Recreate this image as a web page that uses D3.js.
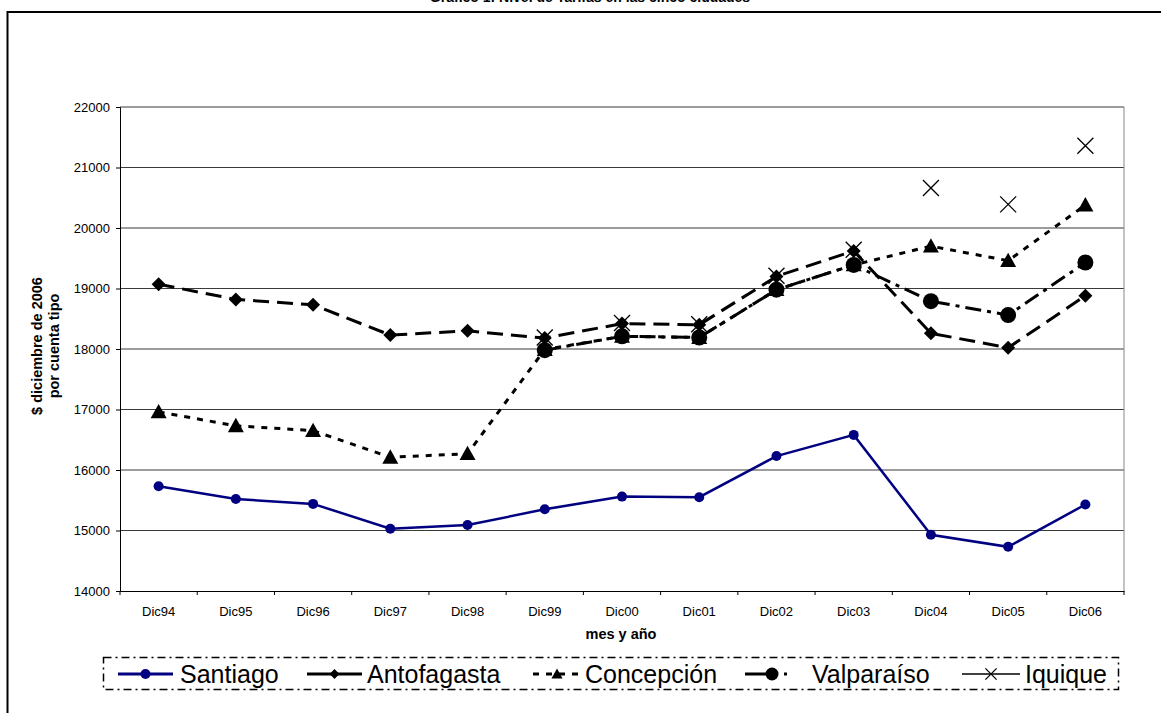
<!DOCTYPE html>
<html>
<head>
<meta charset="utf-8">
<script src="https://cdn.jsdelivr.net/npm/d3@7"></script>
<style>
  body { margin: 0; background: #fff; }
  svg { display: block; font-family: Arial, "Liberation Sans", sans-serif; }
</style>
</head>
<body>
<svg id="chart"></svg>
<script>
// data
const months = ['Dic94', 'Dic95', 'Dic96', 'Dic97', 'Dic98', 'Dic99', 'Dic00', 'Dic01', 'Dic02', 'Dic03', 'Dic04', 'Dic05', 'Dic06'];
const yTicks = [14000, 15000, 16000, 17000, 18000, 19000, 20000, 21000, 22000];
const santiago = [15730, 15520, 15440, 15030, 15090, 15350, 15560, 15550, 16230, 16580, 14930, 14730, 15430];
const antofagasta = [19070, 18820, 18730, 18230, 18300, 18180, 18420, 18400, 19200, 19620, 18260, 18020, 18880];
const concepcion = [16960, 16730, 16650, 16210, 16270, 17990, 18210, 18190, 18980, 19390, 19700, 19460, 20380];
const valparaiso = [null, null, null, null, null, 17980, 18210, 18190, 18980, 19390, 18790, 18560, 19430];
const iquique = [null, null, null, null, null, 18190, 18430, 18410, 19210, 19640, 20660, 20390, 21360];

const series = [
  { name: 'Santiago', values: santiago, color: '#000080', width: 2.5, dash: null, legendDash: null, marker: 'circle', size: 5, line: true },
  { name: 'Antofagasta', values: antofagasta, color: '#000', width: 3, dash: '16,8', legendDash: null, marker: 'diamond', size: 7, line: true },
  { name: 'Concepción', values: concepcion, color: '#000', width: 3, dash: '6,7', legendDash: '6,7', marker: 'triangle', size: 8, line: true },
  { name: 'Valparaíso', values: valparaiso, color: '#000', width: 3, dash: '16,6,4,6', legendDash: '32,7,3,30', marker: 'circle', size: 8, line: true },
  { name: 'Iquique', values: iquique, color: '#000', width: 1.3, dash: null, legendDash: null, marker: 'x', size: 8, line: false },
];

const W = 1161, H = 713;
const margin = { top: 107, left: 120, right: 37, bottom: 122 };
const innerW = W - margin.left - margin.right;
const innerH = H - margin.top - margin.bottom;
const FONT = 'Arial, "Liberation Sans", sans-serif';

const svg = d3.select('#chart').attr('width', W).attr('height', H);

// title, cut at the top edge as in the source
svg.append('text')
  .attr('x', 590).attr('y', 2)
  .attr('text-anchor', 'middle')
  .style('font-size', '14px').style('font-weight', 'bold')
  .text('Gráfico 1: Nivel de Tarifas en las cinco ciudades');

// outer frame
svg.append('rect')
  .attr('x', 7.5).attr('y', 12).attr('width', 1170).attr('height', 720)
  .attr('fill', 'none').attr('stroke', '#000').attr('stroke-width', 2);

const x = d3.scaleBand().domain(months).range([0, innerW]);
const y = d3.scaleLinear().domain([14000, 22000]).range([innerH, 0]);

const g = svg.append('g').attr('transform', `translate(${margin.left},${margin.top})`);

// gridlines
g.append('g')
  .selectAll('line')
  .data(yTicks.slice(1))
  .join('line')
  .attr('x1', 0).attr('x2', innerW)
  .attr('y1', (d) => y(d)).attr('y2', (d) => y(d))
  .attr('stroke', '#3a3a3a').attr('stroke-width', 1);

g.append('line')
  .attr('x1', innerW).attr('x2', innerW).attr('y1', 0).attr('y2', innerH)
  .attr('stroke', '#888').attr('stroke-width', 1);

const yAxis = d3.axisLeft(y).tickValues(yTicks).tickSize(4).tickFormat(d3.format('d'));
g.append('g').attr('class', 'y-axis').call(yAxis)
  .call((a) => a.select('.domain').attr('stroke', '#000'))
  .call((a) => a.selectAll('text').attr('x', -10).style('font-size', '13px').attr('fill', '#000').style('font-family', FONT));

const xAxis = d3.axisBottom(x).tickSize(0).tickPadding(16);
const xg = g.append('g').attr('transform', `translate(0,${innerH})`).call(xAxis);
xg.select('.domain').attr('stroke', '#000');
xg.selectAll('text').style('font-size', '13px').attr('fill', '#000').style('font-family', FONT);
xg.selectAll('.sep')
  .data(d3.range(months.length + 1))
  .join('line')
  .attr('x1', (i) => i * x.step()).attr('x2', (i) => i * x.step())
  .attr('y1', 0).attr('y2', 4)
  .attr('stroke', '#000');

// axis titles
svg.append('text')
  .attr('x', 621).attr('y', 639)
  .attr('text-anchor', 'middle')
  .style('font-size', '14.5px').style('font-weight', 'bold')
  .text('mes y año');

const yt = svg.append('text')
  .attr('transform', 'translate(42,346) rotate(-90)')
  .attr('text-anchor', 'middle')
  .style('font-size', '14.5px').style('font-weight', 'bold');
yt.append('tspan').attr('x', 0).attr('dy', 0).text('$ diciembre de 2006');
yt.append('tspan').attr('x', 0).attr('dy', 17).text('por cuenta tipo');

function drawMarker(sel, s) {
  const r = s.size;
  if (s.marker === 'circle') {
    sel.append('circle').attr('r', r).attr('fill', s.color);
  } else if (s.marker === 'diamond') {
    sel.append('path').attr('d', `M0,${-r}L${r},0L0,${r}L${-r},0Z`).attr('fill', s.color);
  } else if (s.marker === 'triangle') {
    sel.append('path').attr('d', `M0,${-r}L${r},${r * 0.8}L${-r},${r * 0.8}Z`).attr('fill', s.color);
  } else if (s.marker === 'x') {
    sel.append('path').attr('d', `M${-r},${-r}L${r},${r}M${r},${-r}L${-r},${r}`)
      .attr('stroke', s.color).attr('stroke-width', s.width).attr('fill', 'none');
  }
}

const line = d3.line()
  .defined((d) => d.v != null)
  .x((d) => x(d.m) + x.bandwidth() / 2)
  .y((d) => y(d.v));

series.forEach((s) => {
  const pts = months.map((m, i) => ({ m, v: s.values[i] }));
  if (s.line) {
    g.append('path')
      .datum(pts)
      .attr('d', line)
      .attr('fill', 'none')
      .attr('stroke', s.color)
      .attr('stroke-width', s.width)
      .attr('stroke-dasharray', s.dash);
  }
  g.append('g').selectAll('g')
    .data(pts.filter((d) => d.v != null))
    .join('g')
    .attr('transform', (d) => `translate(${x(d.m) + x.bandwidth() / 2},${y(d.v)})`)
    .each(function () { drawMarker(d3.select(this), s); });
});

// legend
svg.append('rect')
  .attr('x', 103.5).attr('y', 657.5).attr('width', 1015).attr('height', 32)
  .attr('fill', 'none').attr('stroke', '#000').attr('stroke-width', 1.5)
  .attr('stroke-dasharray', '8,4,2,4');

const legendLines = [[118, 173], [307, 362], [533, 581], [745, 800], [962, 1020]];
const legendText = [180, 367, 585, 812, 1025];
series.forEach((s, i) => {
  const [a, b] = legendLines[i];
  svg.append('line')
    .attr('x1', a).attr('x2', b).attr('y1', 674).attr('y2', 674)
    .attr('stroke', s.color).attr('stroke-width', s.marker === 'x' ? 1.3 : 3)
    .attr('stroke-dasharray', s.legendDash);
  const mx = s.name === 'Valparaíso' ? 772 : (a + b) / 2;
  const m = svg.append('g').attr('transform', `translate(${mx},674)`);
  const size = s.marker === 'circle' ? (s.size > 5 ? 6.5 : 5) : s.size * 0.7;
  drawMarker(m, { ...s, size });
  svg.append('text')
    .attr('x', legendText[i]).attr('y', 683)
    .style('font-size', '25px')
    .text(s.name);
});
</script>
</body>
</html>
